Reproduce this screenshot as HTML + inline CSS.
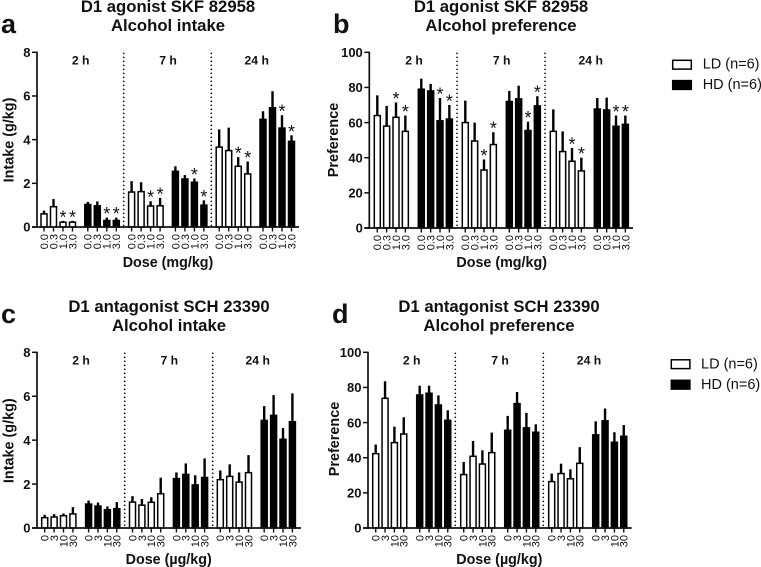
<!DOCTYPE html>
<html lang="en">
<head>
<meta charset="utf-8">
<title>D1 agonist and antagonist effects on alcohol intake and preference</title>
<style>
html,body{margin:0;padding:0;background:#fff;}
svg{display:block;}
text{font-family:"Liberation Sans",Arial,sans-serif;fill:#111;}
</style>
</head>
<body>
<svg id="figure" xmlns="http://www.w3.org/2000/svg" width="761" height="567" viewBox="0 0 761 567"></svg>
<script>
// Shared categories
const groupLabels = ['2 h', '7 h', '24 h'];
const seriesNames = ['LD', 'HD'];
const agonistDoses = ['0.0', '0.3', '1.0', '3.0'];
const antagonistDoses = ['0', '3', '10', '30'];
const intakeTicks = [0, 2, 4, 6, 8];
const preferenceTicks = [0, 20, 40, 60, 80, 100];
const starredDoseIndexes = [2, 3];

// Each array: 2h LD, 2h HD, 7h LD, 7h HD, 24h LD, 24h HD (four doses each)
const aMeans = [0.6,0.93,0.22,0.22, 1.03,0.97,0.3,0.3, 1.6,1.62,0.96,0.97, 2.55,2.2,2.05,1.0, 3.66,3.5,2.78,2.43, 4.93,5.46,4.53,3.92];
const aUppers = [0.75,1.28,0.28,0.28, 1.15,1.17,0.43,0.43, 2.1,2.05,1.18,1.33, 2.78,2.38,2.22,1.22, 4.47,4.55,3.2,3.0, 5.3,6.22,5.12,4.2];
const bMeans = [64,58,63,55, 79,78,61,62, 60,49.5,33,47.5, 72,73.5,55.5,69.5, 55,43.5,38,32.5, 67.7,67.2,57.9,59];
const bUppers = [75.5,69.5,71.5,64, 85,82,74,70, 72.5,60,39,54.5, 78,81,60.5,75, 67.5,55,45.5,40, 74,74.2,64,64];
const cMeans = [0.47,0.5,0.56,0.64, 1.09,1.0,0.83,0.88, 1.18,1.04,1.17,1.56, 2.25,2.44,1.96,2.3, 2.2,2.35,2.09,2.52, 4.9,5.13,4.04,4.84];
const cUppers = [0.6,0.63,0.66,0.95, 1.25,1.16,0.98,1.18, 1.45,1.32,1.4,2.29, 2.53,2.94,2.4,3.17, 2.62,2.9,2.53,3.32, 5.55,6.05,4.55,6.13];
const dMeans = [42.3,73.8,48.6,53.5, 75.7,76.7,70,61.3, 30.4,40.8,36.4,42.9, 55.6,70.8,57,54.5, 26.4,31,28,36.8, 53,61,48.8,52.2];
const dUppers = [47.5,83.5,57.7,63, 81,81,75.5,67, 37.6,49.5,44.2,54.3, 63.8,77.4,65.5,59, 31,36.6,33.4,46, 60.7,68,54.5,58.6];

const svg = document.getElementById('figure');
const NS = 'http://www.w3.org/2000/svg';

function add(parent, tag, attrs, content) {
  const el = document.createElementNS(NS, tag);
  for (const k in attrs) el.setAttribute(k, attrs[k]);
  if (content !== undefined) el.textContent = content;
  parent.appendChild(el);
  return el;
}

function drawPanel(p) {
  const g = add(svg, 'g', {});
  
  

  const yMax = p.ticks[p.ticks.length - 1];
  const yScale = v => p.y0 - (v / yMax) * (p.y0 - p.yTop);
  const xScale = (group, dose) => p.x0 + group * p.groupStep + dose * p.barStep;

  const letter = add(g, 'text', {x: p.letterX, y: p.letterY, 'font-size': 27, 'font-weight': 'bold', fill: '#111'}, p.id);
  
  

  p.title.forEach((line, i) => {
    const t = add(g, 'text', {x: p.titleX, y: p.titleY + i * 19, 'font-size': 16.7, 'font-weight': 'bold', 'text-anchor': 'middle'}, line);
    
    
  });

  // dotted separators between time windows
  p.dividers.forEach(x => {
    const d = add(g, 'line', {x1: x, x2: x, y1: p.yTop + 1, y2: p.y0 - 1, stroke: '#111', 'stroke-width': 1.7, 'stroke-dasharray': '0.1 3.9', 'stroke-linecap': 'round'});
    
    
  });

  // time window labels
  groupLabels.forEach((label, i) => {
    const t = add(g, 'text', {x: p.labelX[i], y: p.yTop + 12, 'font-size': 12.2, 'font-weight': 'bold', 'text-anchor': 'middle'}, label);
    
    
  });

  // bars, error bars, significance stars, dose labels
  p.means.forEach((m, i) => {
    const group = Math.floor(i / 4);
    const dose = i % 4;
    const cx = xScale(group, dose);
    const isHD = group % 2 === 1;
    const top = yScale(m);

    const err = add(g, 'line', {x1: cx, x2: cx, y1: top, y2: yScale(p.uppers[i]), stroke: '#000', 'stroke-width': 2.4});
    
    

    const bar = add(g, 'rect', {x: cx - 3, y: top, width: 6, height: Math.max(0, p.y0 - top), fill: isHD ? '#000' : '#fff', stroke: '#000', 'stroke-width': 1.5});
    
    

    if (p.stars && starredDoseIndexes.includes(dose)) {
      const s = add(g, 'text', {x: cx, y: yScale(p.uppers[i]) + 2.5, 'font-size': 18, 'text-anchor': 'middle'}, '*');
      
      
    }

    const tick = add(g, 'line', {x1: cx, x2: cx, y1: p.y0, y2: p.y0 + 4.5, stroke: '#111', 'stroke-width': 1.4});
    
    

    const lx = cx + 3.9;
    const ly = p.y0 + 7;
    const dl = add(g, 'text', {x: lx, y: ly, 'font-size': 11, 'text-anchor': 'end', fill: '#222', transform: 'rotate(-90 ' + lx + ' ' + ly + ')'}, p.doses[dose]);
    
    
  });

  // y ticks
  p.ticks.forEach(v => {
    const y = yScale(v);
    const tick = add(g, 'line', {x1: p.xAxis - 5, x2: p.xAxis, y1: y, y2: y, stroke: '#111', 'stroke-width': 1.5});
    
    
    const t = add(g, 'text', {x: p.xAxis - 6.5, y: y + 4.7, 'font-size': 13, 'font-weight': 'bold', 'text-anchor': 'end'}, v);
    
    
  });

  // axes
  const ya = add(g, 'line', {x1: p.xAxis, x2: p.xAxis, y1: p.yTop - 0.7, y2: p.y0 + 0.7, stroke: '#111', 'stroke-width': 1.7});
  
  
  const xa = add(g, 'line', {x1: p.xAxis - 5, x2: p.xEnd, y1: p.y0, y2: p.y0, stroke: '#111', 'stroke-width': 1.7});
  
  

  const yt = add(g, 'text', {x: p.yTitleX, y: p.yTitleY, 'font-size': 14.4, 'font-weight': 'bold', 'text-anchor': 'middle', transform: 'rotate(-90 ' + p.yTitleX + ' ' + p.yTitleY + ')'}, p.yTitle);
  
  
  const xt = add(g, 'text', {x: p.xTitleX, y: p.xTitleY, 'font-size': 14.3, 'font-weight': 'bold', 'text-anchor': 'middle'}, p.xTitle);
  
  
}

function drawLegend(x, ys, textX, baselines) {
  const g = add(svg, 'g', {});
  
  
  seriesNames.forEach((name, i) => {
    const r = add(g, 'rect', {x: x, y: ys[i], width: 18.6, height: 8.8, fill: i ? '#000' : '#fff', stroke: '#000', 'stroke-width': 1.5});
    
    
    const t = add(g, 'text', {x: textX, y: baselines[i], 'font-size': 14.5, fill: '#222'}, name + ' (n=6)');
    
    
  });
}

drawPanel({id: 'a', letterX: 1, letterY: 33, titleX: 168, titleY: 12, title: ['D1 agonist SKF 82958', 'Alcohol intake'],
  means: aMeans, uppers: aUppers, doses: agonistDoses, ticks: intakeTicks, stars: true,
  x0: 44, groupStep: 43.8, barStep: 9.5, xAxis: 37, xEnd: 299, y0: 227, yTop: 52.3,
  dividers: [123.7, 211.3], labelX: [80.7, 168, 256.7],
  yTitle: 'Intake (g/kg)', yTitleX: 13.5, yTitleY: 140, xTitle: 'Dose (mg/kg)', xTitleX: 168, xTitleY: 267});

drawPanel({id: 'b', letterX: 333, letterY: 33, titleX: 501, titleY: 12, title: ['D1 agonist SKF 82958', 'Alcohol preference'],
  means: bMeans, uppers: bUppers, doses: agonistDoses, ticks: preferenceTicks, stars: true,
  x0: 377.3, groupStep: 44, barStep: 9.35, xAxis: 369.3, xEnd: 633, y0: 228, yTop: 52.3,
  dividers: [457, 545], labelX: [414, 501.7, 590.7],
  yTitle: 'Preference', yTitleX: 338, yTitleY: 140, xTitle: 'Dose (mg/kg)', xTitleX: 501.7, xTitleY: 267});

drawPanel({id: 'c', letterX: 1, letterY: 323, titleX: 169, titleY: 312, title: ['D1 antagonist SCH 23390', 'Alcohol intake'],
  means: cMeans, uppers: cUppers, doses: antagonistDoses, ticks: intakeTicks, stars: false,
  x0: 44.7, groupStep: 43.9, barStep: 9.4, xAxis: 37, xEnd: 301, y0: 528, yTop: 352.3,
  dividers: [124.7, 212.7], labelX: [81, 169.3, 257.7],
  yTitle: 'Intake (g/kg)', yTitleX: 13.5, yTitleY: 440.7, xTitle: 'Dose (µg/kg)', xTitleX: 168.7, xTitleY: 564});

drawPanel({id: 'd', letterX: 332, letterY: 323, titleX: 499, titleY: 312, title: ['D1 antagonist SCH 23390', 'Alcohol preference'],
  means: dMeans, uppers: dUppers, doses: antagonistDoses, ticks: preferenceTicks, stars: false,
  x0: 375.7, groupStep: 44, barStep: 9.35, xAxis: 368, xEnd: 631.7, y0: 528, yTop: 352.3,
  dividers: [455.3, 543.3], labelX: [411.7, 500, 589],
  yTitle: 'Preference', yTitleX: 339, yTitleY: 439, xTitle: 'Dose (µg/kg)', xTitleX: 499.3, xTitleY: 564});

drawLegend(672.7, [60.3, 80.6], 702.7, [68.7, 89.2]);
drawLegend(671.3, [359.8, 380.3], 701, [368.7, 389.2]);
</script>
</body>
</html>
